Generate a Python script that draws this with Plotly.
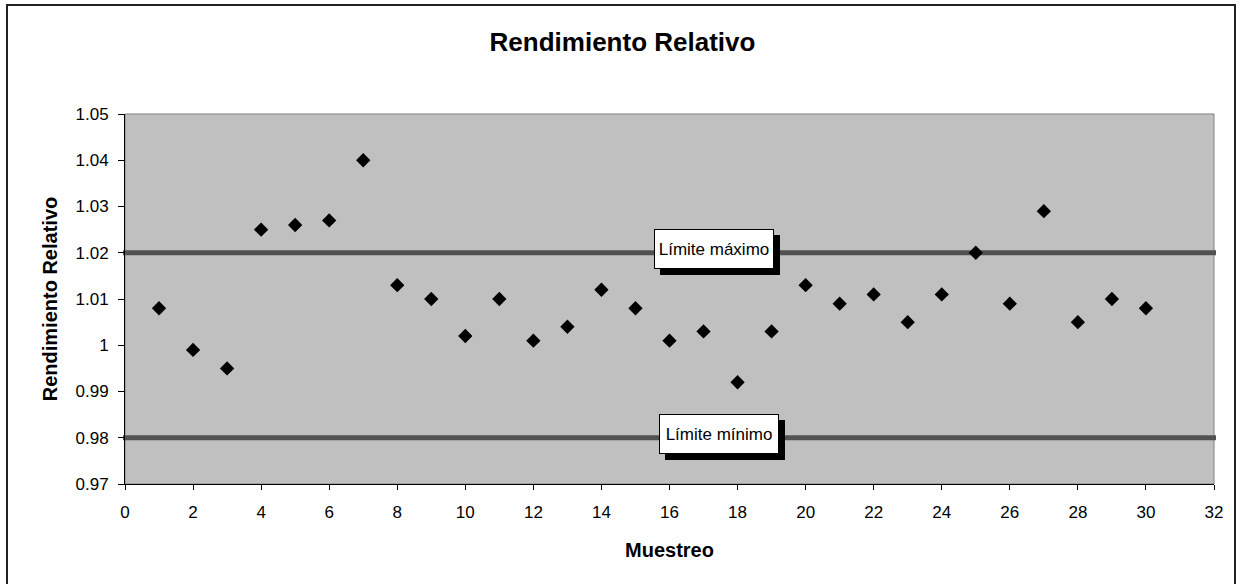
import plotly.graph_objects as go

# ---- data ----
muestreo = list(range(1, 31))
rendimiento = [1.008, 0.999, 0.995, 1.025, 1.026, 1.027, 1.040, 1.013, 1.010, 1.002,
               1.010, 1.001, 1.004, 1.012, 1.008, 1.001, 1.003, 0.992, 1.003, 1.013,
               1.009, 1.011, 1.005, 1.011, 1.020, 1.009, 1.029, 1.005, 1.010, 1.008]
limite_maximo = 1.02
limite_minimo = 0.98
y_tickvals = [0.97, 0.98, 0.99, 1.00, 1.01, 1.02, 1.03, 1.04, 1.05]
y_ticktext = ["0.97", "0.98", "0.99", "1", "1.01", "1.02", "1.03", "1.04", "1.05"]
x_tickvals = list(range(0, 33, 2))
x_range = [0, 32]
y_range = [0.97, 1.05]

FONT = "Liberation Sans, Arial, sans-serif"

fig = go.Figure()
fig.add_trace(go.Scatter(
    x=muestreo, y=rendimiento, mode="markers",
    marker=dict(symbol="diamond", size=11, color="black", line=dict(width=0)),
    showlegend=False, cliponaxis=False,
))

W, H = 1245, 584
L, R, T, B = 125, 31, 114, 100
pw, ph = W - L - R, H - T - B

def px2paper_x(px):
    return (px - L) / pw

def px2paper_y(py):
    return (H - B - py) / ph

shapes = []
# outer chart border
shapes.append(dict(type="rect", xref="paper", yref="paper",
                   x0=px2paper_x(7), x1=px2paper_x(1235),
                   y0=px2paper_y(600), y1=px2paper_y(5),
                   line=dict(color="#222222", width=2), layer="below"))
# plot area gray frame (top/right)
shapes.append(dict(type="rect", xref="paper", yref="paper", x0=0, x1=1, y0=0, y1=1,
                   line=dict(color="#808080", width=1), layer="below"))
# limit lines
for yv in (limite_maximo, limite_minimo):
    shapes.append(dict(type="line", xref="paper", yref="y",
                       x0=px2paper_x(123), x1=px2paper_x(1216), y0=yv, y1=yv,
                       line=dict(color="#525252", width=5), layer="below"))

annotations = []
for label, yv, cx, cy in (("Límite máximo", limite_maximo, 713.5, 249.3),
                          ("Límite mínimo", limite_minimo, 718.5, 434.0)):
    # shadow
    annotations.append(dict(xref="paper", yref="paper",
                            x=px2paper_x(cx + 6), y=px2paper_y(cy + 6),
                            text=" ", showarrow=False, width=118, height=38,
                            bgcolor="black", borderwidth=1, bordercolor="black",
                            borderpad=0, xanchor="center", yanchor="middle"))
    annotations.append(dict(xref="paper", yref="paper",
                            x=px2paper_x(cx), y=px2paper_y(cy),
                            text=label, showarrow=False, width=118, height=38,
                            bgcolor="white", borderwidth=1, bordercolor="black",
                            borderpad=0, xanchor="center", yanchor="middle",
                            font=dict(family=FONT, size=17, color="black")))

fig.update_layout(
    width=W, height=H,
    margin=dict(l=L, r=R, t=T, b=B, autoexpand=False),
    paper_bgcolor="white", plot_bgcolor="#C0C0C0",
    font=dict(family=FONT, size=16, color="black"),
    title=dict(text="<b>Rendimiento Relativo</b>", x=0.5, xref="container",
               y=1 - 42 / H, yref="container", xanchor="center", yanchor="middle",
               font=dict(family=FONT, size=26, color="black")),
    shapes=shapes, annotations=annotations,
    xaxis=dict(range=x_range, tickvals=x_tickvals, showgrid=False, zeroline=False,
               showline=True, linecolor="black", linewidth=1,
               ticks="outside", ticklen=5, tickcolor="black", ticklabelstandoff=8,
               tickfont=dict(family=FONT, size=17, color="black"),
               title=dict(text="<b>Muestreo</b>", standoff=21,
                          font=dict(family=FONT, size=20, color="black"))),
    yaxis=dict(range=y_range, tickvals=y_tickvals, ticktext=y_ticktext,
               showgrid=False, zeroline=False,
               showline=True, linecolor="black", linewidth=1,
               ticks="outside", ticklen=6, tickcolor="black", ticklabelstandoff=6,
               tickfont=dict(family=FONT, size=17, color="black"),
               title=dict(text="<b>Rendimiento Relativo</b>", standoff=12,
                          font=dict(family=FONT, size=20, color="black"))),
)

fig.write_html("out.html")
